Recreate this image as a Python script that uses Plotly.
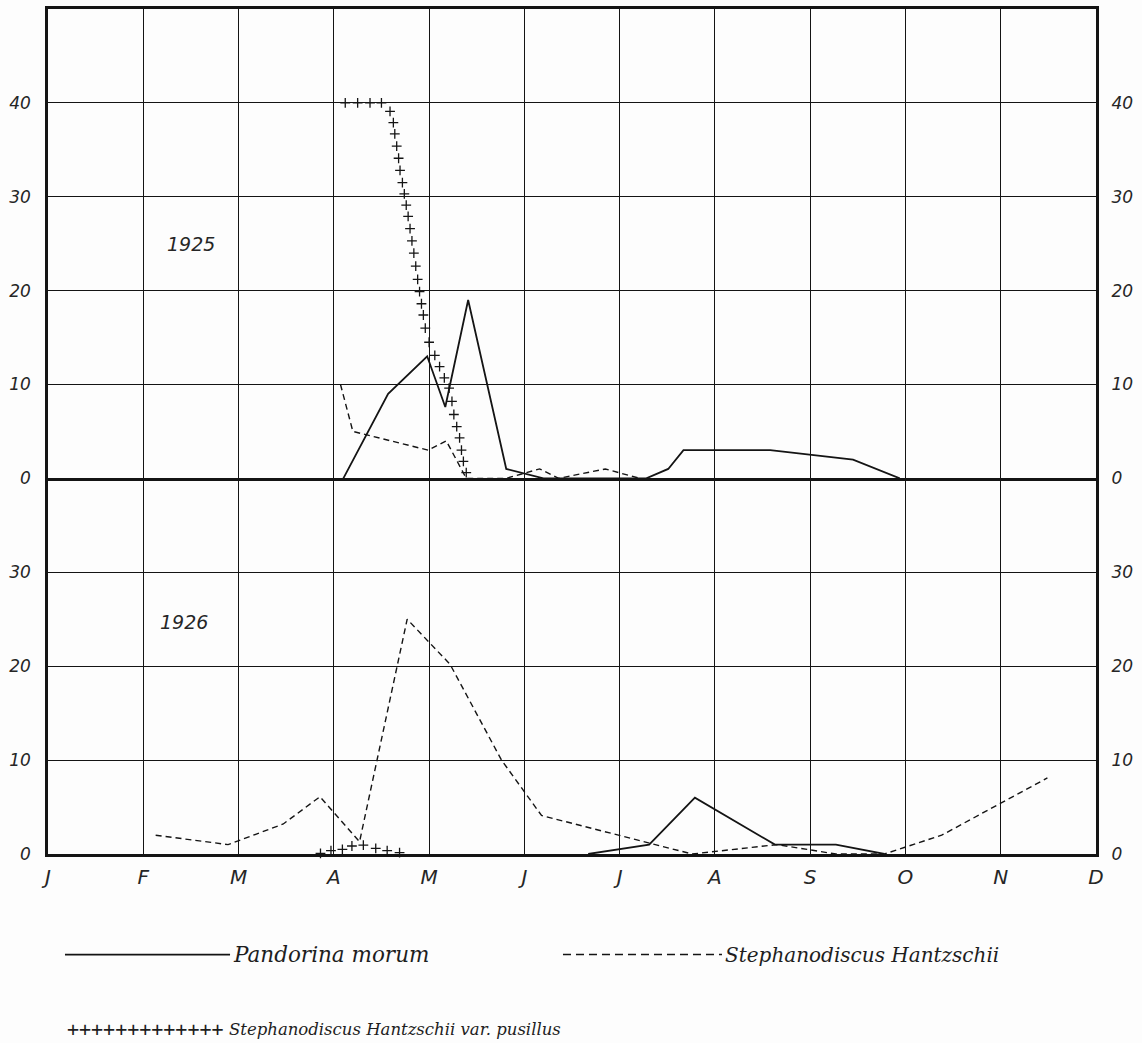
import plotly.graph_objects as go
from plotly.subplots import make_subplots

# Month positions: 0 = start of January ... 11 = start of December
month_ticks = list(range(12))
month_labels = ["J", "F", "M", "A", "M", "J", "J", "A", "S", "O", "N", "D"]

# ---- 1925 ----
pandorina_1925_x = [3.10, 3.57, 3.98, 4.17, 4.41, 4.81, 5.20, 6.28, 6.51, 6.67, 7.58, 8.45, 8.94]
pandorina_1925_y = [0, 9, 13, 7.6, 19, 1, 0, 0, 1, 3, 3, 2, 0]

hantzschii_1925_x = [3.07, 3.20, 3.99, 4.18, 4.39, 4.81, 5.16, 5.36, 5.85, 6.21]
hantzschii_1925_y = [10, 5, 3, 4, 0, 0, 1, 0, 1, 0]

pusillus_1925_x = [3.12, 3.25, 3.38, 3.50, 3.59, 3.625, 3.64, 3.66, 3.68, 3.695,
                   3.72, 3.74, 3.76, 3.78, 3.80, 3.82, 3.84, 3.86, 3.88, 3.90,
                   3.92, 3.94, 3.96, 4.00, 4.06, 4.11, 4.16, 4.21, 4.24, 4.26,
                   4.29, 4.32, 4.34, 4.36, 4.39]
pusillus_1925_y = [40, 40, 40, 40, 39.1, 37.9, 36.7, 35.4, 34.1, 32.8,
                   31.5, 30.3, 29.1, 27.9, 26.6, 25.3, 24.0, 22.6, 21.2, 19.9,
                   18.6, 17.4, 16.0, 14.5, 13.1, 11.9, 10.7, 9.6, 8.2, 6.8,
                   5.5, 4.3, 3.0, 1.8, 0.6]

# ---- 1926 ----
pandorina_1926_x = [5.67, 6.31, 6.79, 7.63, 8.27, 8.78]
pandorina_1926_y = [0, 1, 6, 1, 1, 0]

hantzschii_1926_x = [1.13, 1.89, 2.47, 2.855, 3.27, 3.77, 4.22, 4.76, 5.18,
                     6.76, 7.65, 8.27, 8.78, 9.38, 10.49]
hantzschii_1926_y = [2, 1, 3.2, 6.1, 1.3, 25, 20.2, 10, 4.1, 0, 1, 0, 0, 2, 8.1]

pusillus_1926_x = [2.86, 2.97, 3.09, 3.19, 3.31, 3.44, 3.56, 3.69]
pusillus_1926_y = [0.07, 0.35, 0.5, 0.85, 0.95, 0.6, 0.35, 0.14]

top_ticks = [0, 10, 20, 30, 40]
bottom_ticks = [0, 10, 20, 30]

INK = "#141414"
NUM_FONT = dict(family="DejaVu Sans", size=17, color="#262626", style="italic")
SCRIPT = "DejaVu Serif"

fig = make_subplots(rows=2, cols=1, shared_xaxes=True, vertical_spacing=0,
                    row_heights=[471, 377])


def add_year(row, px, py, hx, hy, cx, cy):
    fig.add_trace(go.Scatter(x=px, y=py, mode="lines",
                             line=dict(color=INK, width=1.8),
                             cliponaxis=False, showlegend=False, hoverinfo="skip"),
                  row=row, col=1)
    fig.add_trace(go.Scatter(x=hx, y=hy, mode="lines",
                             line=dict(color=INK, width=1.4, dash="6px,4px"),
                             cliponaxis=False, showlegend=False, hoverinfo="skip"),
                  row=row, col=1)
    fig.add_trace(go.Scatter(x=cx, y=cy, mode="markers",
                             marker=dict(symbol="cross-thin", size=7,
                                         line=dict(color=INK, width=1.3)),
                             cliponaxis=False, showlegend=False, hoverinfo="skip"),
                  row=row, col=1)


add_year(1, pandorina_1925_x, pandorina_1925_y, hantzschii_1925_x, hantzschii_1925_y,
         pusillus_1925_x, pusillus_1925_y)
add_year(2, pandorina_1926_x, pandorina_1926_y, hantzschii_1926_x, hantzschii_1926_y,
         pusillus_1926_x, pusillus_1926_y)

# placeholder traces so the right-hand value axes are drawn
fig.add_trace(go.Scatter(x=[None], y=[None], yaxis="y3", xaxis="x",
                         showlegend=False, hoverinfo="skip"))
fig.add_trace(go.Scatter(x=[None], y=[None], yaxis="y4", xaxis="x2",
                         showlegend=False, hoverinfo="skip"))

axis_common = dict(showline=True, linewidth=2.6, linecolor=INK,
                   showgrid=True, gridcolor=INK, gridwidth=1.3, zeroline=False)

fig.update_xaxes(range=[0, 11], tickvals=month_ticks, ticktext=month_labels,
                 ticks="outside", ticklen=3, tickcolor="rgba(0,0,0,0)",
                 tickfont=dict(family="DejaVu Sans", size=20, color="#262626",
                               style="italic"),
                 **axis_common)
# top panel frame draws the shared middle line once; bottom panel only its base line
fig.update_xaxes(showticklabels=False, mirror=True, row=1, col=1)
fig.update_xaxes(mirror=False, row=2, col=1)

fig.update_yaxes(range=[0, 50], tickvals=top_ticks, ticktext=[str(v) for v in top_ticks],
                 ticks="outside", ticklen=11, tickcolor="rgba(0,0,0,0)", mirror=True,
                 tickfont=NUM_FONT, row=1, col=1, **axis_common)
fig.update_yaxes(range=[0, 40], tickvals=bottom_ticks,
                 ticktext=[str(v) for v in bottom_ticks],
                 ticks="outside", ticklen=11, tickcolor="rgba(0,0,0,0)", mirror=True,
                 tickfont=NUM_FONT, row=2, col=1, **axis_common)

fig.update_layout(
    yaxis3=dict(overlaying="y", side="right", anchor="x", range=[0, 50],
                tickvals=top_ticks, ticktext=[str(v) for v in top_ticks],
                ticks="outside", ticklen=11, tickcolor="rgba(0,0,0,0)",
                tickfont=NUM_FONT, showgrid=False, zeroline=False, showline=False),
    yaxis4=dict(overlaying="y2", side="right", anchor="x2", range=[0, 40],
                tickvals=bottom_ticks, ticktext=[str(v) for v in bottom_ticks],
                ticks="outside", ticklen=11, tickcolor="rgba(0,0,0,0)",
                tickfont=NUM_FONT, showgrid=False, zeroline=False, showline=False),
)

# year captions inside each panel
fig.add_annotation(x=1.50, y=25, xref="x", yref="y", text="1925", showarrow=False,
                   font=dict(family="DejaVu Sans", size=19, color="#262626", style="italic"))
fig.add_annotation(x=1.43, y=24.7, xref="x2", yref="y2", text="1926", showarrow=False,
                   font=dict(family="DejaVu Sans", size=19, color="#262626", style="italic"))

# key below the chart (paper coordinates)
row1_y = -0.119
row2_y = -0.2075
fig.add_shape(type="line", xref="paper", yref="paper", x0=0.0162, x1=0.1737,
              y0=row1_y, y1=row1_y, line=dict(color=INK, width=1.8))
fig.add_shape(type="line", xref="paper", yref="paper", x0=0.4914, x1=0.6431,
              y0=row1_y, y1=row1_y, line=dict(color=INK, width=1.4, dash="8px,5px"))
fig.add_annotation(xref="paper", yref="paper", x=0.1746, y=row1_y, xanchor="left",
                   yanchor="middle", showarrow=False, text="Pandorina morum",
                   font=dict(family=SCRIPT, size=21.5, color="#1e1e1e", style="italic"))
fig.add_annotation(xref="paper", yref="paper", x=0.644, y=row1_y, xanchor="left",
                   yanchor="middle", showarrow=False, text="Stephanodiscus Hantzschii",
                   font=dict(family=SCRIPT, size=20, color="#1e1e1e", style="italic"))
fig.add_annotation(xref="paper", yref="paper", x=0.0165, y=row2_y, xanchor="left",
                   yanchor="middle", showarrow=False, text="+" * 13,
                   font=dict(family="DejaVu Sans Mono", size=20, color="#1e1e1e"))
fig.add_annotation(xref="paper", yref="paper", x=0.1705, y=row2_y, xanchor="left",
                   yanchor="middle", showarrow=False,
                   text="Stephanodiscus Hantzschii var. pusillus",
                   font=dict(family=SCRIPT, size=16.5, color="#1e1e1e", style="italic"))

fig.update_layout(
    width=1142, height=1043, autosize=False,
    margin=dict(l=48, r=46, t=6, b=189),
    paper_bgcolor="#fdfdfd", plot_bgcolor="#fdfdfd",
    showlegend=False,
)

fig.write_html("out.html")
